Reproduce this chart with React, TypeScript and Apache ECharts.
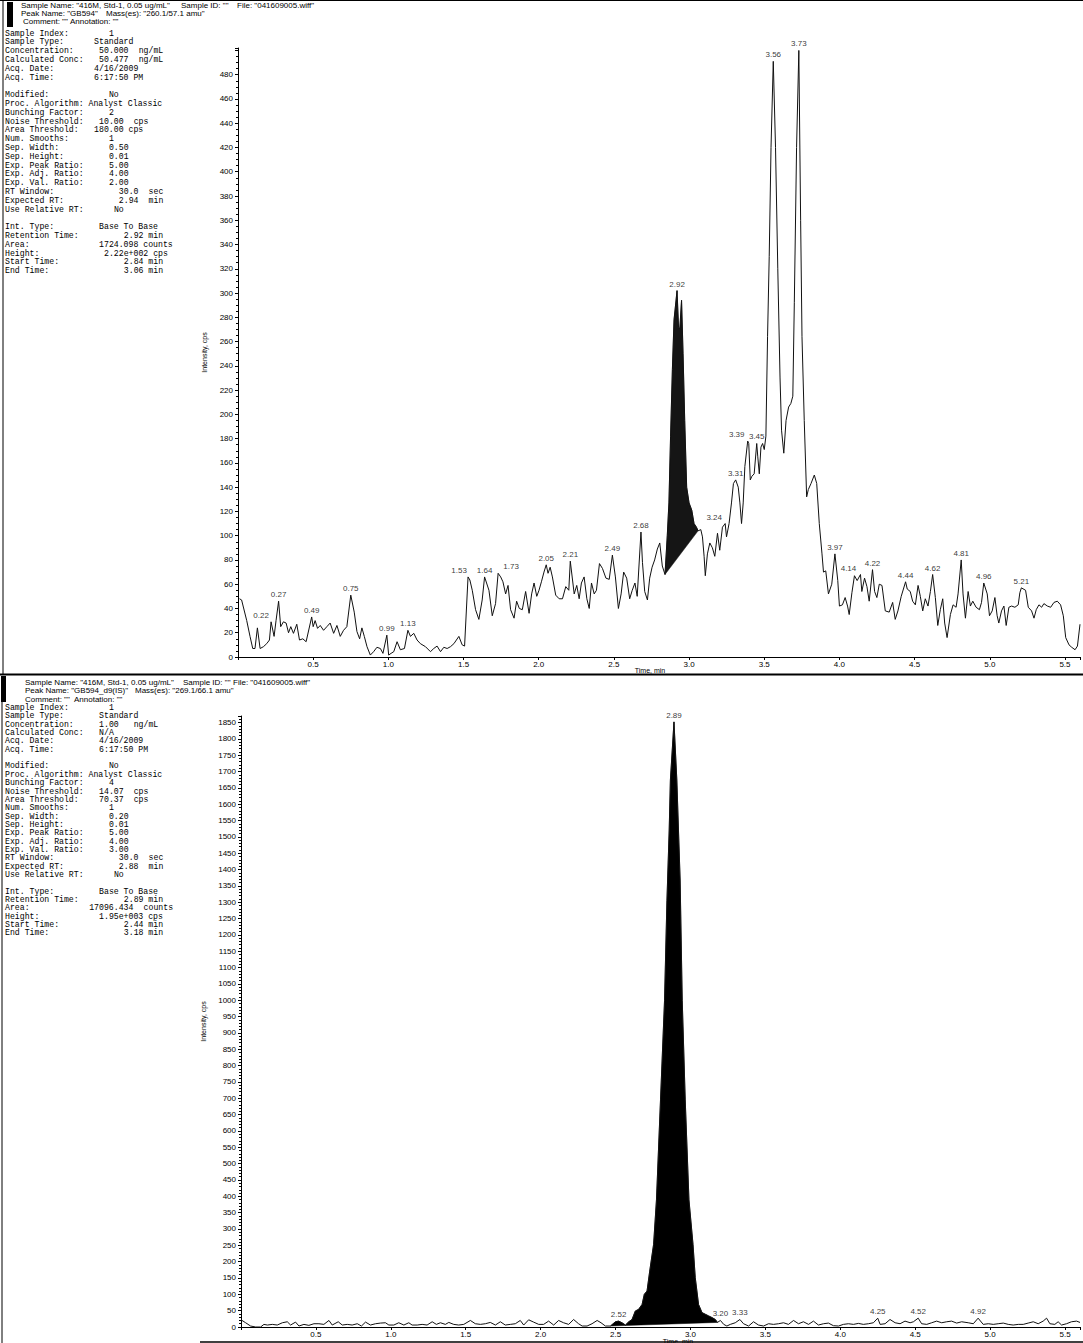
import React, { useEffect, useRef } from "react";
import * as echarts from "echarts";

// ---------- DATA ----------
// Top chromatogram: GB594 260.1/57.1 (time min, intensity cps)
const topTraceA: [number, number][] = [
  [0.01, 48], [0.024, 47], [0.058, 30], [0.08, 17], [0.098, 7], [0.113, 7], [0.129, 24], [0.147, 7],
  [0.169, 8.5], [0.191, 11], [0.209, 14], [0.22, 29], [0.24, 17], [0.253, 30], [0.27, 46], [0.284, 25],
  [0.302, 29], [0.32, 28], [0.336, 20], [0.351, 25], [0.369, 19.5], [0.391, 27], [0.409, 14], [0.431, 15],
  [0.453, 12.6], [0.49, 33], [0.5, 25], [0.513, 30], [0.529, 23.6], [0.547, 26], [0.569, 22], [0.591, 25],
  [0.613, 28], [0.636, 19.5], [0.658, 26], [0.68, 17], [0.702, 22], [0.724, 25], [0.75, 51], [0.773, 37],
  [0.791, 21], [0.809, 15], [0.824, 24], [0.84, 17], [0.858, 8.5], [0.88, 1.6], [0.902, 4.4], [0.924, 8],
  [0.947, 7], [0.964, 3], [0.99, 18], [1.002, 1.6], [1.018, 3], [1.036, 4.4], [1.058, 12.6], [1.08, 6],
  [1.107, 7], [1.13, 22], [1.147, 17], [1.169, 19.5], [1.191, 14], [1.213, 11], [1.247, 8.5], [1.28, 4.4],
  [1.302, 7], [1.324, 9], [1.347, 4.4], [1.369, 8], [1.391, 7], [1.413, 8.5], [1.436, 11], [1.469, 17],
  [1.491, 10], [1.507, 9],
];
const topTraceB: [number, number][] = [
  [1.53, 66], [1.542, 63.5], [1.558, 55], [1.58, 39], [1.602, 31], [1.624, 47], [1.64, 66], [1.669, 55],
  [1.691, 34], [1.713, 44], [1.73, 69], [1.747, 66], [1.762, 62], [1.78, 52], [1.796, 59], [1.813, 39],
  [1.836, 32], [1.853, 46], [1.871, 40], [1.891, 39], [1.913, 54], [1.936, 36], [1.953, 52], [1.969, 61],
  [1.987, 50], [2.002, 55], [2.018, 62], [2.035, 70], [2.05, 76], [2.062, 69], [2.076, 74], [2.091, 66],
  [2.113, 51], [2.136, 48], [2.158, 48], [2.18, 58], [2.2, 55], [2.21, 79], [2.236, 52], [2.253, 59],
  [2.269, 48], [2.284, 61], [2.302, 66], [2.32, 48], [2.336, 40], [2.351, 61], [2.369, 52], [2.384, 55],
  [2.404, 77], [2.424, 73], [2.447, 65], [2.469, 64], [2.49, 84], [2.51, 66], [2.53, 40], [2.548, 52],
  [2.565, 70], [2.585, 65], [2.605, 48], [2.622, 55], [2.64, 61], [2.655, 50], [2.68, 103], [2.69, 78],
  [2.705, 54], [2.723, 47], [2.738, 65], [2.754, 74], [2.771, 80], [2.789, 89], [2.805, 94], [2.822, 75],
];
const topTraceC: [number, number][] = [
  [2.84, 68], [2.855, 100], [2.866, 127], [2.877, 182], [2.889, 237], [2.9, 278], [2.92, 302], [2.93, 272],
  [2.938, 270], [2.95, 294], [2.96, 250], [2.971, 195], [2.984, 140], [3.0, 127], [3.018, 121], [3.033, 110],
  [3.049, 107], [3.06, 104], [3.078, 105], [3.089, 99], [3.1, 83], [3.108, 67], [3.122, 85], [3.138, 94],
  [3.155, 90], [3.171, 83], [3.189, 102], [3.204, 88], [3.222, 107], [3.24, 110], [3.249, 99], [3.266, 110],
  [3.282, 127], [3.295, 143], [3.31, 146], [3.327, 140], [3.338, 127], [3.349, 110], [3.36, 127], [3.371, 157],
  [3.39, 178], [3.397, 176], [3.407, 146], [3.418, 149], [3.433, 151], [3.45, 176], [3.457, 165], [3.467, 151],
  [3.478, 173], [3.489, 176], [3.5, 171], [3.511, 182], [3.522, 264], [3.533, 330], [3.545, 420], [3.56, 491],
  [3.575, 420], [3.59, 320], [3.605, 230], [3.615, 187], [3.63, 168], [3.645, 195], [3.662, 206], [3.677, 209],
  [3.69, 215], [3.7, 292], [3.715, 420], [3.73, 500], [3.742, 360], [3.751, 264], [3.766, 195], [3.782, 132],
  [3.793, 138], [3.811, 143], [3.833, 150], [3.849, 143], [3.866, 110], [3.884, 85],
];
const topTraceD: [number, number][] = [
  [3.894, 70], [3.909, 71], [3.927, 52], [3.949, 60], [3.97, 85], [3.989, 63], [4.0, 42], [4.02, 43],
  [4.038, 49], [4.054, 42], [4.065, 35], [4.083, 53], [4.1, 67], [4.118, 63], [4.14, 68], [4.149, 54],
  [4.167, 65], [4.183, 58], [4.198, 46], [4.22, 72], [4.234, 54], [4.249, 49], [4.265, 60], [4.283, 59],
  [4.305, 38], [4.331, 37], [4.354, 45], [4.371, 31], [4.389, 38], [4.411, 50], [4.44, 62], [4.451, 56],
  [4.471, 54], [4.487, 46], [4.505, 43], [4.523, 59], [4.538, 50], [4.554, 38], [4.571, 48], [4.589, 42],
  [4.605, 54], [4.62, 68], [4.638, 49], [4.654, 26], [4.671, 39], [4.687, 48], [4.7, 28], [4.716, 16],
  [4.738, 35], [4.756, 43], [4.776, 41], [4.789, 52], [4.81, 80], [4.822, 52], [4.838, 32], [4.856, 54],
  [4.871, 42], [4.887, 46], [4.909, 41], [4.931, 39], [4.945, 45], [4.96, 61], [4.983, 52], [4.998, 34],
  [5.016, 38], [5.034, 49], [5.049, 34], [5.06, 28], [5.078, 38], [5.094, 42], [5.109, 26], [5.127, 41],
  [5.145, 42], [5.167, 41], [5.189, 43], [5.2, 53], [5.21, 57], [5.238, 55], [5.256, 41], [5.278, 38],
  [5.294, 32], [5.309, 39], [5.327, 43], [5.345, 41], [5.36, 44], [5.383, 42], [5.405, 41], [5.427, 45],
  [5.449, 46], [5.471, 43], [5.489, 34], [5.505, 16], [5.527, 10], [5.545, 8], [5.567, 6], [5.583, 9],
  [5.6, 27],
];
const topPeakRange: [number, number] = [2.84, 3.06];
const topLabels: [number, number][] = [
  [0.22, 29], [0.27, 46], [0.49, 33], [0.75, 51], [0.99, 18], [1.13, 22], [1.53, 66], [1.64, 66],
  [1.73, 69], [2.05, 76], [2.21, 79], [2.49, 84], [2.68, 103], [2.92, 302], [3.24, 110], [3.31, 146],
  [3.39, 178], [3.45, 176], [3.56, 491], [3.73, 500], [3.97, 85], [4.14, 68], [4.22, 72], [4.44, 62],
  [4.62, 68], [4.81, 80], [4.96, 61], [5.21, 57],
];

// Bottom chromatogram: GB594_d9(IS) 269.1/66.1
const bottomTraceA: [number, number][] = [
  [0.0, 22], [0.031, 13], [0.064, 3], [0.098, 0], [0.131, 0], [0.153, 8], [0.176, 6], [0.209, 8],
  [0.242, 6], [0.276, 13], [0.309, 16], [0.331, 6], [0.364, 15], [0.387, 3], [0.42, 8], [0.453, 5],
  [0.487, 10], [0.52, 10], [0.553, 8], [0.587, 20], [0.609, 6], [0.649, 16], [0.676, 6], [0.709, 8],
  [0.742, 6], [0.776, 10], [0.804, 3], [0.831, 15], [0.864, 6], [0.898, 10], [0.931, 12], [0.964, 13],
  [0.987, 6], [1.02, 6], [1.053, 13], [1.087, 6], [1.12, 13], [1.142, 6], [1.176, 6], [1.209, 8],
  [1.242, 6], [1.276, 16], [1.304, 8], [1.331, 13], [1.364, 8], [1.387, 14], [1.42, 8], [1.453, 6],
  [1.487, 8], [1.531, 20], [1.564, 10], [1.598, 8], [1.631, 10], [1.664, 14], [1.698, 6], [1.731, 16],
  [1.764, 6], [1.798, 8], [1.831, 10], [1.864, 20], [1.887, 6], [1.92, 22], [1.953, 15], [1.987, 8],
  [2.02, 8], [2.053, 18], [2.087, 6], [2.12, 20], [2.153, 13], [2.187, 8], [2.22, 23], [2.253, 10],
];
const bottomTraceB: [number, number][] = [
  [2.277, 3], [2.31, 3], [2.343, 10], [2.377, 20], [2.403, 13], [2.432, 3], [2.466, 3], [2.499, 16],
  [2.52, 18], [2.543, 13], [2.566, 6], [2.588, 16], [2.61, 23], [2.632, 49], [2.654, 54], [2.677, 69],
  [2.692, 100], [2.71, 110], [2.728, 171], [2.754, 253], [2.773, 389], [2.8, 695], [2.827, 1000],
  [2.843, 1306], [2.858, 1521], [2.866, 1674], [2.89, 1852], [2.909, 1674], [2.92, 1521], [2.931, 1368],
  [2.945, 1000], [2.965, 695], [2.99, 389], [3.017, 253], [3.032, 151], [3.054, 69], [3.077, 44],
  [3.099, 39], [3.121, 34], [3.143, 29], [3.166, 23], [3.18, 14],
];
const bottomTraceC: [number, number][] = [
  [3.2, 20], [3.222, 8], [3.243, 3], [3.266, 8], [3.299, 13], [3.33, 23], [3.354, 10], [3.388, 3],
  [3.421, 16], [3.454, 6], [3.488, 3], [3.521, 10], [3.554, 8], [3.588, 10], [3.621, 13], [3.654, 8],
  [3.688, 20], [3.721, 10], [3.754, 16], [3.788, 8], [3.821, 18], [3.854, 6], [3.888, 10], [3.921, 12],
  [3.954, 4], [3.988, 3], [4.021, 8], [4.054, 10], [4.088, 8], [4.121, 11], [4.154, 8], [4.188, 10],
  [4.221, 13], [4.25, 27], [4.266, 8], [4.299, 10], [4.332, 23], [4.366, 13], [4.399, 10], [4.432, 18],
  [4.466, 13], [4.488, 16], [4.52, 27], [4.543, 10], [4.577, 8], [4.61, 13], [4.643, 18], [4.677, 13],
  [4.71, 16], [4.743, 18], [4.777, 12], [4.81, 16], [4.854, 13], [4.888, 10], [4.92, 27], [4.954, 8],
  [4.988, 10], [5.021, 8], [5.054, 10], [5.088, 12], [5.121, 8], [5.154, 6], [5.188, 8], [5.221, 8],
  [5.254, 12], [5.288, 16], [5.321, 10], [5.354, 18], [5.377, 27], [5.399, 10], [5.432, 8], [5.454, 16],
  [5.477, 6], [5.51, 10], [5.543, 16], [5.577, 18], [5.6, 14],
];
const bottomPeakRange: [number, number] = [2.44, 3.18];
const bottomLabels: [number, number][] = [
  [2.52, 18], [2.89, 1852], [3.2, 20], [3.33, 23], [4.25, 27], [4.52, 27], [4.92, 27],
];

// Header texts
const topHeader: string[][] = [
  ['Sample Name: "416M, Std-1, 0.05 ug/mL"', 'Sample ID: ""', 'File: "041609005.wiff"'],
  ['Peak Name: "GB594"', 'Mass(es): "260.1/57.1 amu"'],
  ['Comment: ""', 'Annotation: ""'],
];
const bottomHeader: string[][] = [
  ['Sample Name: "416M, Std-1, 0.05 ug/mL"', 'Sample ID: ""', 'File: "041609005.wiff"'],
  ['Peak Name: "GB594_d9(IS)"', 'Mass(es): "269.1/66.1 amu"'],
  ['Comment: ""', 'Annotation: ""'],
];

const c = (s: string, n: number) => s.padEnd(n, " ");
const topInfo: string[] = [
  c("Sample Index:", 21) + "1",
  c("Sample Type:", 18) + "Standard",
  c("Concentration:", 19) + c("50.000", 8) + "ng/mL",
  c("Calculated Conc:", 19) + c("50.477", 8) + "ng/mL",
  c("Acq. Date:", 18) + "4/16/2009",
  c("Acq. Time:", 18) + "6:17:50 PM",
  "",
  c("Modified:", 21) + "No",
  "Proc. Algorithm: Analyst Classic",
  c("Bunching Factor:", 21) + "2",
  c("Noise Threshold:", 19) + c("10.00", 7) + "cps",
  c("Area Threshold:", 18) + c("180.00", 7) + "cps",
  c("Num. Smooths:", 21) + "1",
  c("Sep. Width:", 21) + "0.50",
  c("Sep. Height:", 21) + "0.01",
  c("Exp. Peak Ratio:", 21) + "5.00",
  c("Exp. Adj. Ratio:", 21) + "4.00",
  c("Exp. Val. Ratio:", 21) + "2.00",
  c("RT Window:", 23) + c("30.0", 6) + "sec",
  c("Expected RT:", 23) + c("2.94", 6) + "min",
  c("Use Relative RT:", 22) + "No",
  "",
  c("Int. Type:", 19) + "Base To Base",
  c("Retention Time:", 24) + c("2.92", 5) + "min",
  c("Area:", 19) + c("1724.098", 9) + "counts",
  c("Height:", 20) + c("2.22e+002", 10) + "cps",
  c("Start Time:", 24) + c("2.84", 5) + "min",
  c("End Time:", 24) + c("3.06", 5) + "min",
];
const bottomInfo: string[] = [
  c("Sample Index:", 21) + "1",
  c("Sample Type:", 19) + "Standard",
  c("Concentration:", 19) + c("1.00", 7) + "ng/mL",
  c("Calculated Conc:", 19) + "N/A",
  c("Acq. Date:", 19) + "4/16/2009",
  c("Acq. Time:", 19) + "6:17:50 PM",
  "",
  c("Modified:", 21) + "No",
  "Proc. Algorithm: Analyst Classic",
  c("Bunching Factor:", 21) + "4",
  c("Noise Threshold:", 19) + c("14.07", 7) + "cps",
  c("Area Threshold:", 19) + c("70.37", 7) + "cps",
  c("Num. Smooths:", 21) + "1",
  c("Sep. Width:", 21) + "0.20",
  c("Sep. Height:", 21) + "0.01",
  c("Exp. Peak Ratio:", 21) + "5.00",
  c("Exp. Adj. Ratio:", 21) + "4.00",
  c("Exp. Val. Ratio:", 21) + "3.00",
  c("RT Window:", 23) + c("30.0", 6) + "sec",
  c("Expected RT:", 23) + c("2.88", 6) + "min",
  c("Use Relative RT:", 22) + "No",
  "",
  c("Int. Type:", 19) + "Base To Base",
  c("Retention Time:", 24) + c("2.89", 5) + "min",
  c("Area:", 17) + c("17096.434", 11) + "counts",
  c("Height:", 19) + c("1.95e+003", 10) + "cps",
  c("Start Time:", 24) + c("2.44", 5) + "min",
  c("End Time:", 24) + c("3.18", 5) + "min",
];

// ---------- LAYOUT / STYLE ----------
const SANS = "Liberation Sans";
const MONO = "Liberation Mono";
const labelNudge: Record<string, number> = {
  "0.22": -10, "1.53": -9, "1.73": 13, "3.24": -11, "3.39": -11, "4.14": -12,
};

function monoBlock(lines: string[], x0: number, y0: number, pitch: number, cw: number, fs: number) {
  const out: any[] = [];
  lines.forEach((line, i) => {
    const re = /\S+(?: \S+)*/g;
    let m: RegExpExecArray | null;
    while ((m = re.exec(line)) !== null) {
      out.push({
        type: "text",
        x: x0 + m.index * cw,
        y: y0 + i * pitch,
        silent: true,
        style: { text: m[0], fontFamily: MONO, fontSize: fs, fill: "#000", verticalAlign: "middle" },
      });
    }
  });
  return out;
}

function headerBlock(lines: string[][], xs: number[][], ys: number[]) {
  const out: any[] = [];
  lines.forEach((segs, i) => {
    segs.forEach((s, j) => {
      out.push({
        type: "text",
        x: xs[i][j],
        y: ys[i],
        silent: true,
        style: { text: s, fontFamily: SANS, fontSize: 8, fill: "#000", verticalAlign: "middle" },
      });
    });
  });
  return out;
}

function peakPolygon(trace: [number, number][], range: [number, number]) {
  return trace.filter((p) => p[0] >= range[0] - 1e-9 && p[0] <= range[1] + 1e-9);
}

function labelData(list: [number, number][]) {
  return list.map((p) => {
    const key = p[0].toFixed(2);
    const dx = labelNudge[key] || 0;
    return { value: p, label: { offset: [dx, 0] } };
  });
}

function xAxisCfg(gridIndex: number) {
  return {
    type: "value",
    gridIndex,
    min: 0,
    max: 5.6,
    interval: 0.5,
    axisLine: { show: true, onZero: false, lineStyle: { color: "#000", width: 1 } },
    axisTick: { show: true, length: 3, lineStyle: { color: "#000" } },
    splitLine: { show: false },
    axisLabel: {
      margin: 3,
      fontFamily: SANS,
      fontSize: 8,
      color: "#000",
      formatter: (v: number) => (v > 0 && Math.abs(v * 2 - Math.round(v * 2)) < 1e-6 ? v.toFixed(1) : ""),
    },
  };
}

function yAxisCfg(gridIndex: number, max: number, step: number, minorSplit: number, lastLabel: number) {
  return {
    type: "value",
    gridIndex,
    min: 0,
    max,
    interval: step,
    name: "Intensity, cps",
    nameLocation: "middle",
    nameGap: 30,
    nameTextStyle: { fontFamily: SANS, fontSize: 7, color: "#000" },
    axisLine: { show: true, onZero: false, lineStyle: { color: "#000", width: 1 } },
    axisTick: { show: true, length: 3, lineStyle: { color: "#000" } },
    minorTick: { show: true, splitNumber: minorSplit, length: 2, lineStyle: { color: "#000" } },
    splitLine: { show: false },
    axisLabel: {
      margin: 5,
      fontFamily: SANS,
      fontSize: 8,
      color: "#000",
      formatter: (v: number) => (Math.abs(v % step) < 1e-6 && v <= lastLabel ? String(v) : ""),
    },
  };
}

function buildOption() {
  const topTrace = [...topTraceA, ...topTraceB, ...topTraceC, ...topTraceD];
  const bottomTrace = [...bottomTraceA, ...bottomTraceB, ...bottomTraceC];
  const topPoly = peakPolygon(topTrace, topPeakRange);
  const bottomPoly = peakPolygon(bottomTrace, bottomPeakRange);

  const polySeries = (poly: [number, number][], idx: number, fill: string) => ({
    type: "custom",
    xAxisIndex: idx,
    yAxisIndex: idx,
    silent: true,
    z: 2,
    data: [[poly[0][0], poly[0][1]]],
    renderItem: (_p: any, api: any) => ({
      type: "polygon",
      shape: { points: poly.map((pt) => api.coord(pt)) },
      style: { fill, stroke: fill, lineWidth: 0.5 },
    }),
  });

  const lineSeries = (data: [number, number][], idx: number) => ({
    type: "line",
    xAxisIndex: idx,
    yAxisIndex: idx,
    data,
    symbol: "none",
    silent: true,
    z: 3,
    lineStyle: { color: "#111", width: 1 },
  });

  const labelSeries = (data: [number, number][], idx: number) => ({
    type: "scatter",
    xAxisIndex: idx,
    yAxisIndex: idx,
    data: labelData(data),
    symbolSize: 1,
    silent: true,
    z: 4,
    itemStyle: { color: "rgba(0,0,0,0)" },
    label: {
      show: true,
      position: "top",
      distance: 2,
      fontFamily: SANS,
      fontSize: 8,
      color: "#000",
      formatter: (p: any) => p.value[0].toFixed(2),
    },
  });

  const graphics: any[] = [
    // scan borders / separators
    { type: "line", silent: true, shape: { x1: 0, y1: 0.5, x2: 1083, y2: 0.5 }, style: { stroke: "#000", lineWidth: 1 } },
    { type: "line", silent: true, shape: { x1: 3, y1: 0, x2: 3, y2: 674 }, style: { stroke: "#000", lineWidth: 1 } },
    { type: "line", silent: true, shape: { x1: 0, y1: 674.5, x2: 1083, y2: 674.5 }, style: { stroke: "#000", lineWidth: 2 } },
    { type: "line", silent: true, shape: { x1: 2, y1: 676, x2: 2, y2: 1343 }, style: { stroke: "#000", lineWidth: 1 } },
    { type: "line", silent: true, shape: { x1: 200, y1: 1342, x2: 1083, y2: 1342 }, style: { stroke: "#000", lineWidth: 1.5 } },
    { type: "rect", silent: true, shape: { x: 7, y: 2, width: 6, height: 25 }, style: { fill: "#000" } },
    { type: "rect", silent: true, shape: { x: 1, y: 676, width: 5, height: 26 }, style: { fill: "#000" } },
    // x axis names
    { type: "text", silent: true, x: 650, y: 670, style: { text: "Time, min", fontFamily: SANS, fontSize: 7, fill: "#000", align: "center", verticalAlign: "middle" } },
    { type: "text", silent: true, x: 678, y: 1341, style: { text: "Time, min", fontFamily: SANS, fontSize: 7, fill: "#000", align: "center", verticalAlign: "middle" } },
    ...headerBlock(topHeader, [[21, 181, 237], [21, 106], [23, 70]], [5, 13, 21]),
    ...headerBlock(bottomHeader, [[25, 183, 233], [25, 135], [25, 74]], [682, 690, 699]),
    ...monoBlock(topInfo, 5, 33, 8.8, 4.95, 8.2),
    ...monoBlock(bottomInfo, 5, 707.5, 8.35, 4.95, 8.2),
  ];

  return {
    animation: false,
    backgroundColor: "#fff",
    grid: [
      { left: 238, right: 3, top: 48, height: 609 },
      { left: 241, right: 1, top: 716, height: 611 },
    ],
    xAxis: [xAxisCfg(0), xAxisCfg(1)],
    yAxis: [yAxisCfg(0, 502, 20, 4, 480), yAxisCfg(1, 1870, 50, 5, 1850)],
    series: [
      polySeries(topPoly, 0, "#151515"),
      lineSeries(topTrace, 0),
      labelSeries(topLabels, 0),
      polySeries(bottomPoly, 1, "#000"),
      lineSeries(bottomTrace, 1),
      labelSeries(bottomLabels, 1),
    ],
    graphic: graphics,
  };
}

export default function App() {
  const ref = useRef<HTMLDivElement>(null);
  useEffect(() => {
    document.body.style.margin = "0";
    if (!ref.current) return;
    const chart = echarts.init(ref.current, null, { renderer: "svg" });
    chart.setOption(buildOption() as any);
    return () => chart.dispose();
  }, []);
  return <div ref={ref} style={{ width: 1083, height: 1343, background: "#fff" }} />;
}
